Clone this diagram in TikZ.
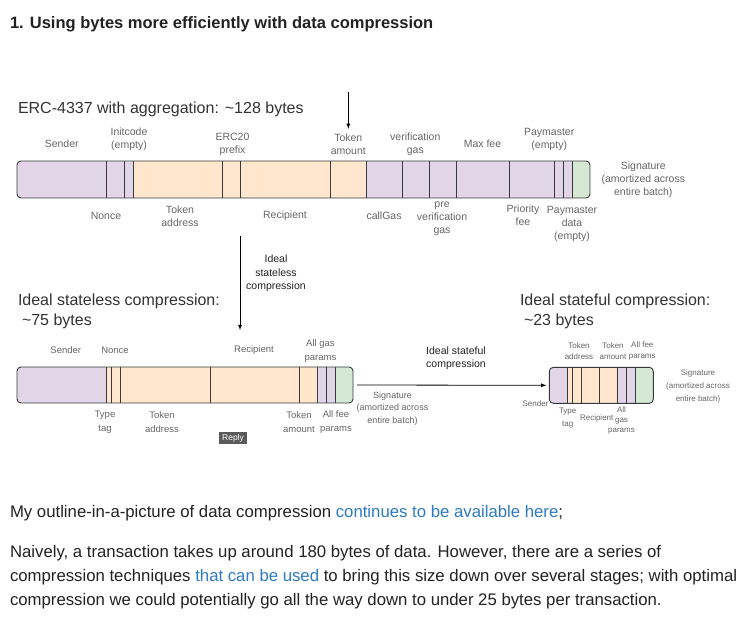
\documentclass[tikz,border=0pt]{standalone}
\usepackage{fontspec}
\setmainfont{Liberation Sans}
\usepackage{tikz}
\usetikzlibrary{positioning}
\usepackage{xcolor}
\definecolor{segpurple}{HTML}{E1D5E7}
\definecolor{segorange}{HTML}{FFE6CC}
\definecolor{seggreen}{HTML}{D5E8D4}
\definecolor{barline}{HTML}{36393D}
\definecolor{lblgray}{HTML}{666666}
\definecolor{titletext}{HTML}{333333}
\definecolor{darktext}{HTML}{222222}
\definecolor{bodytext}{HTML}{222222}
\definecolor{linkblue}{HTML}{2F7BC1}
\definecolor{replygray}{HTML}{5A5A5A}

\begin{document}
\begin{tikzpicture}[x=1pt, y=-1pt,
  every node/.style = {inner sep=0pt, outer sep=0pt},
  bar/.style = {draw=barline, line width=0.9pt, rounded corners=4pt, anchor=north west},
  split/.style = {draw=barline, line width=0.9pt},
  flow/.style = {draw=black, line width=0.8pt, -latex},
  lbl/.style = {align=center, text=lblgray, font=\fontsize{10.5}{13}\selectfont},
  lblsm/.style = {align=center, text=lblgray, font=\fontsize{9.5}{14}\selectfont},
  lbltiny/.style = {align=center, text=lblgray, font=\fontsize{8}{11}\selectfont},
  steplbl/.style = {align=center, text=darktext, font=\fontsize{10.5}{13.5}\selectfont},
  bartitle/.style = {align=left, text=titletext, font=\fontsize{16}{20}\selectfont},
  bodyline/.style = {anchor=base west, text=bodytext, font=\fontsize{16.75}{24}\selectfont},
  replybtn/.style = {fill=replygray, text=white, font=\fontsize{8.5}{9}\selectfont,
    minimum width=28pt, minimum height=12pt}
  ]
  \fill[white] (0,0) rectangle (746,618);
  \useasboundingbox (0,0) rectangle (746,618);

  \node[anchor=base west, text=darktext, font=\bfseries\fontsize{16.5}{18}\selectfont] (heading)
    at (10,29) {1. Using bytes more efficiently with data compression};

  % ERC-4337 bar
  \node[bartitle, anchor=base west] (erctitle) at (18,113) {ERC-4337 with aggregation: \textasciitilde128 bytes};
  \begin{scope}
    \clip[rounded corners=4pt] (17,161) rectangle (590,198);
    \fill[segpurple] (17,161) rectangle (133.3,198);
    \fill[segorange] (133.3,161) rectangle (366.7,198);
    \fill[segpurple] (366.7,161) rectangle (572.3,198);
    \fill[seggreen] (572.3,161) rectangle (590,198);
  \end{scope}
  \foreach \x in {106.7,124.3,133.3,222.7,240.7,330.7,366.7,402.3,429,456,509.3,554.3,563.3,572.3}
    \draw[split] (\x,161) -- (\x,198);
  \node[bar, minimum width=573pt, minimum height=37pt] (ercbar) at (17,161) {};

  \node[lbl] (sender1) at (61.7,143.3) {Sender};
  \node[lbl] (initcode) at (129,139.2) {Initcode\\(empty)};
  \node[lbl] (prefix) at (232.5,144.2) {ERC20\\prefix};
  \node[lbl] (amount1) at (348.3,144.2) {Token\\amount};
  \node[lbl] (vergas) at (415.3,143.9) {verification\\gas};
  \node[lbl] (maxfee) at (482.5,143.3) {Max fee};
  \node[lbl] (paym) at (549.2,139.5) {Paymaster\\(empty)};
  \node[lbl] (sig1) at (643.3,179.7) {Signature\\(amortized across\\entire batch)};
  \node[lbl] (nonce1) at (106,215.7) {Nonce};
  \node[lbl] (tokaddr1) at (180,215.9) {Token\\address};
  \node[lbl] (recip1) at (285,215.7) {Recipient};
  \node[lbl] (callgas) at (384,215.7) {callGas};
  \node[lbl] (prevergas) at (442,218.7) {pre\\verification\\gas};
  \node[lbl] (prio) at (523,215.7) {Priority\\fee};
  \node[lbl] (paydata) at (572,224.4) {Paymaster\\data\\(empty)};

  \coordinate (feedtop) at (348.3,92);
  \draw[flow, shorten >=5pt] (feedtop) -- (amount1.north);

  % stateless step
  \coordinate (dropstart) at (240,236);
  \coordinate (dropend) at (240,330);
  \draw[flow] (dropstart) -- (dropend);
  \node[steplbl] (statelessstep) at (276,273.7) {Ideal\\stateless\\compression};

  \node[bartitle, anchor=north west] (sltitle) at (18,294.3) {Ideal stateless compression:\\\hspace{4pt}\textasciitilde75 bytes};
  \begin{scope}
    \clip[rounded corners=4pt] (17,367) rectangle (353,403);
    \fill[segpurple] (17,367) rectangle (106.7,403);
    \fill[segorange] (106.7,367) rectangle (317.3,403);
    \fill[segpurple] (317.3,367) rectangle (335.3,403);
    \fill[seggreen] (335.3,367) rectangle (353,403);
  \end{scope}
  \foreach \x in {106.7,111,120,210,299.3,317.3,326,335.3}
    \draw[split] (\x,367) -- (\x,403);
  \node[bar, minimum width=336pt, minimum height=36pt] (slbar) at (17,367) {};

  \node[lblsm] (sender2) at (65.8,350) {Sender};
  \node[lblsm] (nonce2) at (115,350) {Nonce};
  \node[lblsm] (recip2) at (254,350) {Recipient};
  \node[lblsm] (allgas2) at (320.5,350.7) {All gas\\params};
  \node[lblsm] (typetag2) at (105,422) {Type\\tag};
  \node[lblsm] (tokaddr2) at (162,422) {Token\\address};
  \node[lblsm] (amount2) at (299,422) {Token\\amount};
  \node[lblsm] (allfee2) at (336,422) {All fee\\params};
  \node[replybtn] (reply) at (233,438) {Reply};

  % stateful step
  \draw[flow] ([xshift=4pt]slbar.east) -- ([xshift=-3pt]549.3,385.3);
  \node[steplbl] (statefulstep) at (456,358.3) {Ideal stateful\\compression};
  \node[lblsm, font=\fontsize{9}{12.5}\selectfont] (sig2) at (392.5,408.5) {Signature\\(amortized across\\entire batch)};

  \node[bartitle, anchor=north west] (sftitle) at (520,294.3) {Ideal stateful compression:\\\hspace{4pt}\textasciitilde23 bytes};
  \begin{scope}
    \clip[rounded corners=4pt] (549.3,367.3) rectangle (653.3,403.3);
    \fill[segpurple] (549.3,367.3) rectangle (567.3,403.3);
    \fill[segorange] (567.3,367.3) rectangle (617.3,403.3);
    \fill[segpurple] (617.3,367.3) rectangle (635.7,403.3);
    \fill[seggreen] (635.7,367.3) rectangle (653.3,403.3);
  \end{scope}
  \foreach \x in {567.3,572.3,581.7,599.3,617.3,626.7,635.7}
    \draw[split] (\x,367.3) -- (\x,403.3);
  \node[bar, minimum width=104pt, minimum height=36pt] (sfbar) at (549.3,367.3) {};

  \node[lbltiny] (tokaddr3) at (579,350.7) {Token\\address};
  \node[lbltiny] (amount3) at (613,350.7) {Token\\amount};
  \node[lbltiny] (allfee3) at (642.3,350.7) {All fee\\params};
  \node[lbltiny, font=\fontsize{8}{13.5}\selectfont] (typetag3) at (567.7,418.3) {Type\\tag};
  \node[lbltiny] (recip3) at (596.7,418.3) {Recipient};
  \node[lbltiny, font=\fontsize{8}{10.3}\selectfont] (allgas3) at (621.5,420.3) {All\\gas\\params};
  \node[lbltiny] (sender3) at (535.5,403.3) {Sender};
  \node[lbltiny, font=\fontsize{8}{13}\selectfont] (sig3) at (698,386.7) {Signature\\(amortized across\\entire batch)};

  % text below the picture
  \node[bodyline] (outline) at (10,517) {My outline-in-a-picture of data compression \textcolor{linkblue}{continues to be available here};};
  \node[bodyline] (naive1) at (10,557) {Naively, a transaction takes up around 180 bytes of data. However, there are a series of};
  \node[bodyline] (naive2) at (10,581) {compression techniques \textcolor{linkblue}{that can be used} to bring this size down over several stages; with optimal};
  \node[bodyline] (naive3) at (10,605) {compression we could potentially go all the way down to under 25 bytes per transaction.};
\end{tikzpicture}
\end{document}
